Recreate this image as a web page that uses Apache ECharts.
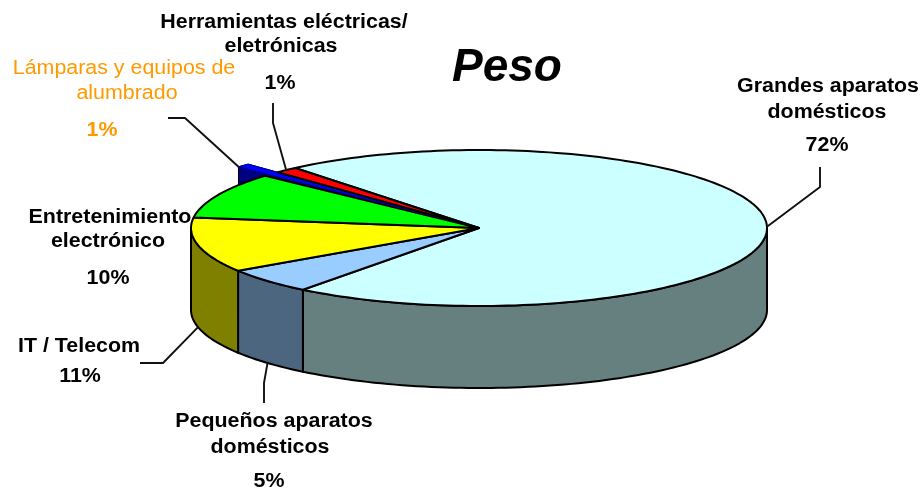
<!DOCTYPE html>
<html><head><meta charset="utf-8">
<style>html,body{margin:0;padding:0;background:#fff}#main{width:923px;height:491px;filter:blur(0.45px)}</style>
<script src="https://cdn.jsdelivr.net/npm/echarts@6/dist/echarts.min.js"></script>
</head><body><div id="main"></div>
<script>
// ---- data ----
const categories = ['Grandes aparatos domésticos','Pequeños aparatos domésticos','IT / Telecom','Entretenimiento electrónico','Lámparas y equipos de alumbrado','Herramientas eléctricas/ eletrónicas'];
const values = [71.5, 5.3, 11.4, 9.5, 1, 1.3];
const chartTitle = 'Peso';

// ---- styling / layout (separate from the data) ----
const topColors  = ['#CCFFFF','#99CCFF','#FFFF00','#00FF00','#0000FF','#FF0000'];
const wallColors = ['#668080','#4D6680','#808000','#008000','#000080','#800000'];
const CX = 479, CY = 228, RX = 288, RY = 78, DEPTH = 82;
const START_DEG = 230.3;              // clockwise on screen, from +x, in ellipse parameter space
const EXPLODE = {4: 1.146};           // the Lámparas slice stands proud of the rim
const TRIM_START = {4: 1.2};          // and looks narrower than its share
const WALL_DEPTH = {4: 19};
const labelLayout = [
  {lines:[['Grandes aparatos',828,86],['domésticos',827,112]], pct:[827,145], leader:[[820,187],[820,167]], onWall:false},
  {lines:[['Pequeños aparatos',274,421],['domésticos',270,447]], pct:[269,481], leader:[[264,383],[264,403]], onWall:true},
  {lines:[['IT / Telecom',79,346]], pct:[80,376], leader:[[163,363],[140,363]], onWall:true},
  {lines:[['Entretenimiento',110,217],['electrónico',108,241]], pct:[108,278], leader:null},
  {lines:[['Lámparas y equipos de',124,68],['alumbrado',127,93]], pct:[102,130], leader:[[185,118],[168,118]], color:'#FF9900', weight:'normal', anchorAtStart:true},
  {lines:[['Herramientas eléctricas/',284,22],['eletrónicas',281,46]], pct:[280,83], leader:[[273,123],[273,103]]}
];

const total = values.reduce((a,b)=>a+b,0);
const ranges = [];
values.reduce((acc,v,i)=>{const e=acc+v/total*360; ranges.push([acc+(TRIM_START[i]||0),e]); return e;}, START_DEG);
const rad = d => d*Math.PI/180;
const pt = (deg,k=1,dy=0) => [CX+RX*k*Math.cos(rad(deg)), CY+RY*k*Math.sin(rad(deg))+dy];
function arc(s,e,k=1,dy=0){const n=Math.max(2,Math.ceil((e-s)/1.5)),o=[];for(let i=0;i<=n;i++)o.push(pt(s+(e-s)*i/n,k,dy));return o;}

function wallRanges(i){
  if (WALL_DEPTH[i]) return [ranges[i]];
  const [s,e]=ranges[i], out=[];
  for (const b of [0,360]) {const a=Math.max(s,b),z=Math.min(e,b+180); if(z>a) out.push([a,z]);}
  return out;
}
const dataRows = values.map((v,i)=>[v,i]);
const LINE = {stroke:'#000',lineWidth:2,lineJoin:'round'};

function renderWall(p,api){
  const i=api.value(1), k=EXPLODE[i]||1, d=WALL_DEPTH[i]||DEPTH, children=[];
  for(const [s,e] of wallRanges(i)){
    const pts = WALL_DEPTH[i]
      ? [[CX,CY+d],pt(s,k,d),...arc(s,e,k),[CX,CY]]
      : [...arc(s,e,k),...arc(s,e,k,d).reverse()];
    children.push({type:'polygon',shape:{points:pts},style:{fill:wallColors[i],...LINE,lineWidth:WALL_DEPTH[i]?1:2}});
  }
  return {type:'group',children};
}
function renderTop(p,api){
  const i=api.value(1), k=EXPLODE[i]||1, [s,e]=ranges[i];
  return {type:'polygon',shape:{points:[[CX,CY],...arc(s,e,k)]},style:{fill:topColors[i],...LINE,lineWidth:EXPLODE[i]?0.8:2,stroke:EXPLODE[i]?wallColors[i]:'#000'}};
}
function renderLeader(p,api){
  const i=api.value(1), L=labelLayout[i];
  if(!L.leader) return {type:'group',children:[]};
  const mid=L.anchorAtStart?ranges[i][0]:(ranges[i][0]+ranges[i][1])/2;
  const a=pt(mid,EXPLODE[i]||1,L.onWall?DEPTH:0);
  return {type:'polyline',shape:{points:[a,...L.leader]},style:{fill:null,stroke:'#111',lineWidth:1.9,lineJoin:'round'}};
}
function renderLabel(p,api){
  const i=api.value(1), L=labelLayout[i], col=L.color||'#000';
  const txt=(t,x,y,w)=>({type:'text',x,y,scaleX:1.07,style:{text:t,x:0,y:0,fill:col,font:`${w} 20px "Liberation Sans", Arial, sans-serif`,textAlign:'center',textVerticalAlign:'middle'}});
  const kids=L.lines.map(l=>txt(l[0],l[1],l[2],L.weight||'bold'));
  kids.push(txt(Math.round(api.value(0))+'%',L.pct[0],L.pct[1],'bold'));
  return {type:'group',children:kids};
}
const mk=(fn,z)=>({type:'custom',coordinateSystem:'none',renderItem:fn,data:dataRows,z,silent:true,animation:false,clip:false});
const chart=echarts.init(document.getElementById('main'),null,{renderer:'canvas'});
chart.setOption({
  animation:false,
  backgroundColor:'#fff',
  title:{text:chartTitle,left:447,top:40,textStyle:{fontFamily:'"Liberation Sans", Arial, sans-serif',fontSize:46,fontWeight:'bold',fontStyle:'italic',color:'#000'}},
  series:[mk(renderWall,1),mk(renderTop,2),mk(renderLeader,3),mk(renderLabel,4)]
});
</script></body></html>
